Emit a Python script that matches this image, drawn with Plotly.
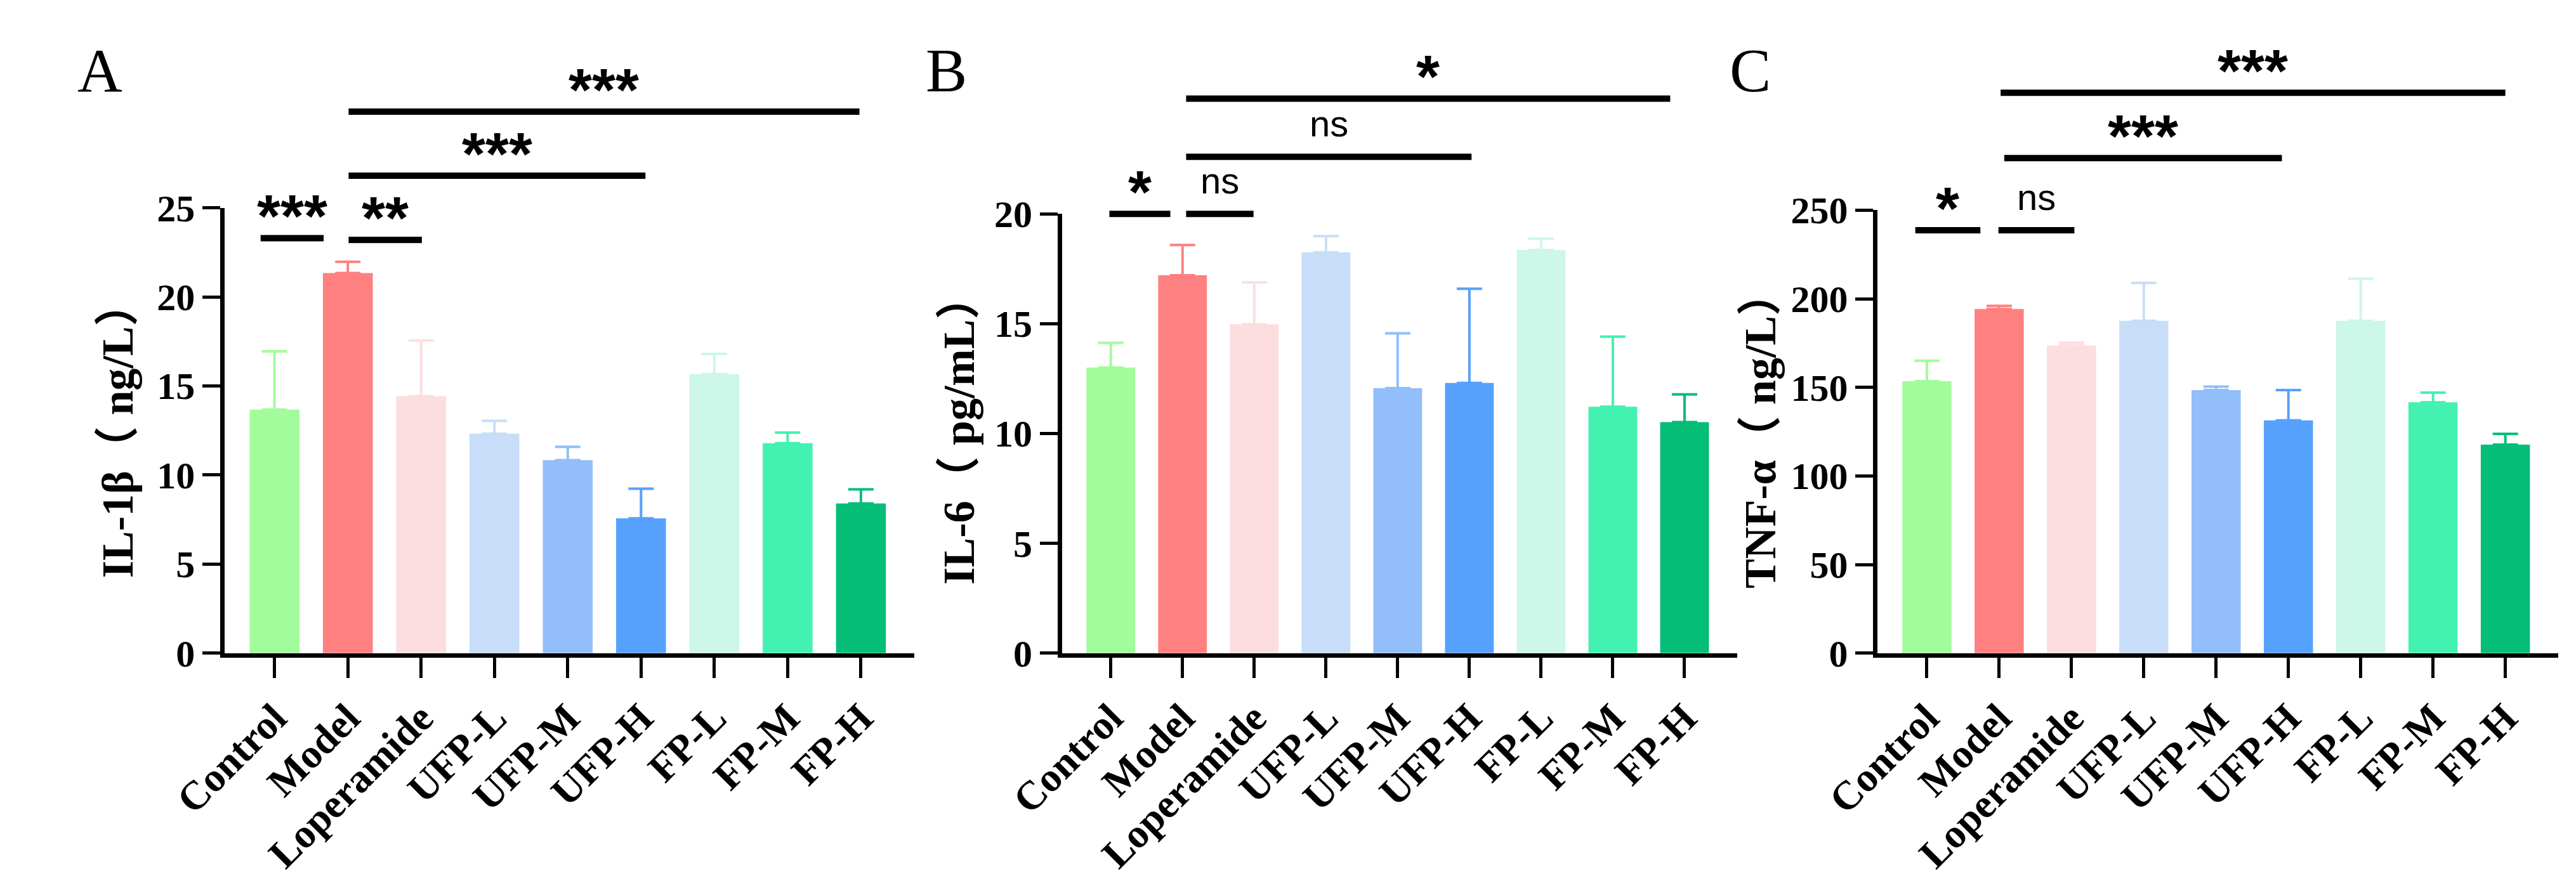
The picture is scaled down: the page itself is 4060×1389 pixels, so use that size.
import plotly.graph_objects as go

groups = ["Control", "Model", "Loperamide", "UFP-L", "UFP-M", "UFP-H", "FP-L", "FP-M", "FP-H"]
bar_colors = ["#A3FC9B", "#FF8080", "#FDDEE0", "#C8DEF8", "#92BEF9",
              "#56A1FD", "#CDF7E8", "#43F2B0", "#05BE78"]

# mean and mean+SD
il1b_mean = [13.67, 21.34, 14.43, 12.32, 10.83, 7.56, 15.67, 11.78, 8.40]
il1b_upper = [16.94, 21.97, 17.55, 13.04, 11.58, 9.23, 16.80, 12.38, 9.19]
il6_mean = [13.00, 17.20, 14.97, 18.25, 12.06, 12.30, 18.35, 11.22, 10.52]
il6_upper = [14.13, 18.58, 16.88, 18.99, 14.56, 16.59, 18.87, 14.41, 11.78]
tnf_mean = [153.5, 194.2, 173.6, 187.6, 148.5, 131.4, 187.6, 141.6, 117.7]
tnf_upper = [165.0, 196.0, 175.2, 209.0, 150.4, 148.5, 211.3, 147.0, 123.8]

# significance brackets: (start, end, height, label) in category / value units
il1b_sig = [(-0.19, 0.67, 23.3, "***"), (1.01, 2.01, 23.2, "**"),
            (1.01, 5.06, 26.8, "***"), (1.01, 7.98, 30.4, "***")]
il6_sig = [(-0.02, 0.83, 20.0, "*"), (1.05, 1.99, 20.0, "ns"),
           (1.05, 5.03, 22.6, "ns"), (1.05, 7.80, 25.25, "*")]
tnf_sig = [(-0.16, 0.74, 238.7, "*"), (0.99, 2.04, 238.7, "ns"),
           (1.07, 4.91, 279.4, "***"), (1.02, 8.00, 316.3, "***")]

W, H = 4060, 1389
serif = "Times New Roman, Liberation Serif, Noto Sans CJK SC"
sans = "Arial, Liberation Sans"

panels = [
    dict(letter="A", title="IL-1β（ ng/L）", mean=il1b_mean, upper=il1b_upper,
         ymax=25, dtick=5, sig=il1b_sig, left=261, right=1373, top=302,
         letter_x=21, title_x=88),
    dict(letter="B", title="IL-6（ pg/mL）", mean=il6_mean, upper=il6_upper,
         ymax=20, dtick=5, sig=il6_sig, left=1611, right=2699, top=312,
         letter_x=1389, title_x=1445),
    dict(letter="C", title="TNF-α（ ng/L）", mean=tnf_mean, upper=tnf_upper,
         ymax=250, dtick=50, sig=tnf_sig, left=2926, right=4023, top=306,
         letter_x=2685, title_x=2736),
]
bottom = 1039

fig = go.Figure()
annotations = []
shapes = []

for i, p in enumerate(panels):
    sfx = "" if i == 0 else str(i + 1)
    xa, ya = "x" + sfx, "y" + sfx
    d0, d1 = 1 - bottom / H, 1 - p["top"] / H

    for j, g in enumerate(groups):
        fig.add_trace(go.Bar(
            x=[j], y=[p["mean"][j]], width=0.68,
            marker=dict(color=bar_colors[j], line=dict(width=0)),
            error_y=dict(type="data", symmetric=False,
                         array=[p["upper"][j] - p["mean"][j]], arrayminus=[0],
                         color=bar_colors[j], thickness=4, width=20),
            xaxis=xa, yaxis=ya, showlegend=False, name=g
        ))

    fig.update_layout({
        "xaxis" + sfx: dict(
            domain=[p["left"] / W, p["right"] / W], anchor=ya,
            range=[-0.68, 8.73], tickmode="array", tickvals=list(range(9)),
            ticktext=groups, tickangle=-45, showline=True, linecolor="black",
            linewidth=7, ticks="outside", ticklen=32, tickwidth=5, tickcolor="black",
            showgrid=False, zeroline=False,
            tickfont=dict(family=serif, size=64, color="black", weight="bold")),
        "yaxis" + sfx: dict(
            domain=[d0, d1], anchor=xa, range=[0, p["ymax"]], dtick=p["dtick"],
            showline=True, linecolor="black", linewidth=7, ticks="outside",
            ticklen=28, tickwidth=5, tickcolor="black", showgrid=False,
            zeroline=False,
            tickfont=dict(family=serif, size=60, color="black", weight="bold")),
    })

    def to_paper(v, d0=d0, d1=d1, ymax=p["ymax"]):
        return d0 + (d1 - d0) * v / ymax

    for x0, x1, lvl, lab in p["sig"]:
        yp = to_paper(lvl)
        shapes.append(dict(type="line", xref=xa, yref="paper", x0=x0, x1=x1,
                           y0=yp, y1=yp, line=dict(color="black", width=10)))
        if lab == "ns":
            f = dict(family=sans, size=58, color="black")
            shift = 53
        else:
            f = dict(family=sans, size=95, color="black", weight="bold")
            shift = 35
        annotations.append(dict(x=(x0 + x1) / 2, y=yp, xref=xa, yref="paper",
                                text=lab, showarrow=False, font=f,
                                xanchor="center", yanchor="middle", yshift=shift))

    annotations.append(dict(x=p["letter_x"] / W, y=1 - 75 / H, xref="paper",
                            yref="paper", text=p["letter"], showarrow=False,
                            xanchor="left", yanchor="middle",
                            font=dict(family=serif, size=98, color="black")))
    annotations.append(dict(x=p["title_x"] / W, y=1 - 670 / H, xref="paper",
                            yref="paper", text=p["title"], showarrow=False,
                            textangle=-90, xanchor="center", yanchor="middle",
                            font=dict(family=serif, size=70, color="black",
                                      weight="bold")))

fig.update_layout(
    width=W, height=H, margin=dict(l=0, r=0, t=0, b=0),
    paper_bgcolor="white", plot_bgcolor="white", barmode="overlay",
    showlegend=False, annotations=annotations, shapes=shapes
)

fig.write_html("out.html")
